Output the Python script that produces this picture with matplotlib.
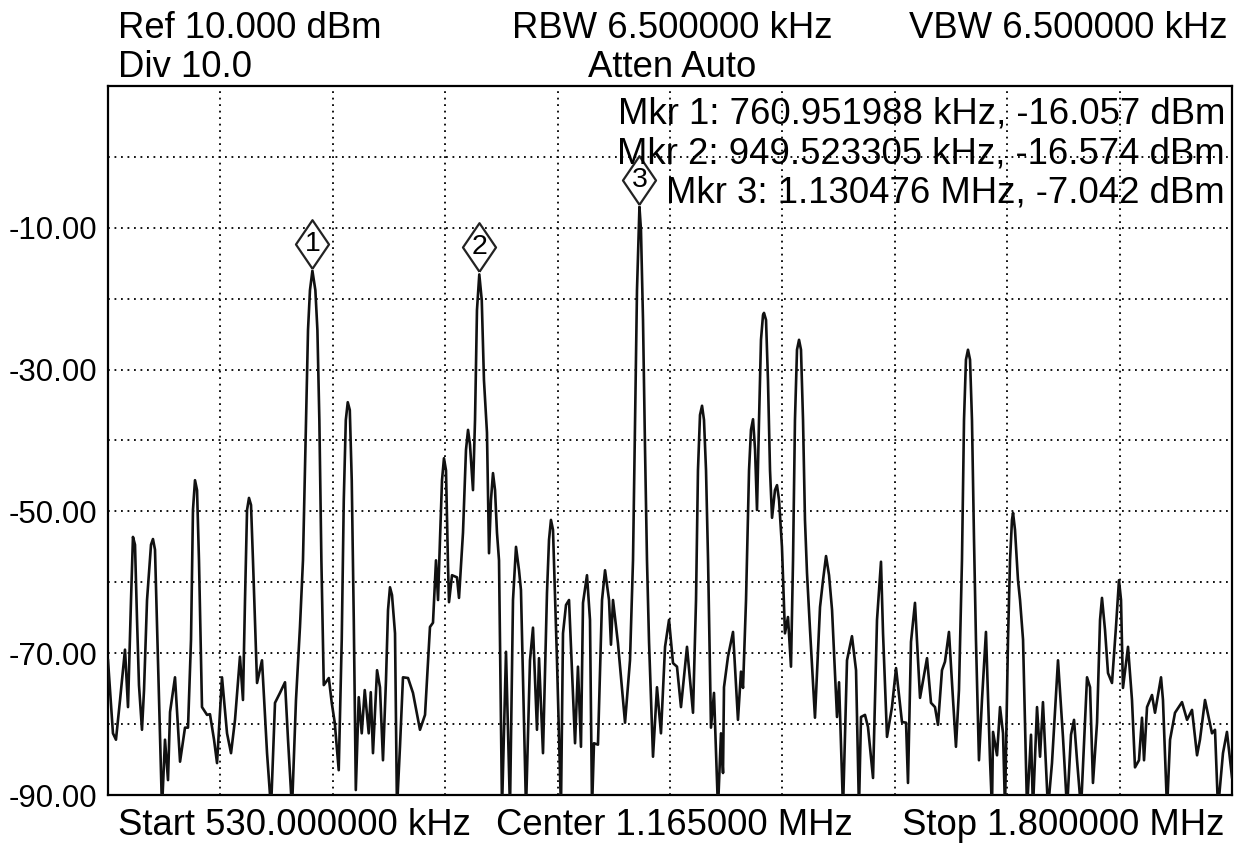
import matplotlib
matplotlib.use("Agg")
import matplotlib.pyplot as plt
import numpy as np
from matplotlib.transforms import offset_copy

plt.rcParams['font.family'] = ['Liberation Sans', 'DejaVu Sans']

# ---- data (frequency in kHz, level in dBm) ----
freq_khz = [
    530.0, 535.6, 539.0, 543.6, 549.2, 552.6, 556.0, 558.2, 560.5, 562.8, 565.0, 568.4, 570.7, 574.1, 578.6,
    580.8, 583.1, 586.5, 591.0, 594.4, 597.8, 600.1, 605.7, 611.4, 617.0, 620.4, 623.8, 626.0, 628.3, 630.6,
    632.8, 636.2, 641.9, 645.2, 649.8, 653.2, 658.8, 664.5, 669.0, 673.5, 679.1, 682.5, 684.8, 687.1, 689.3,
    691.6, 693.8, 698.4, 704.0, 709.7, 714.2, 718.7, 724.3, 730.0, 733.4, 737.9, 742.4, 746.9, 750.3, 753.7,
    756.0, 758.2, 760.95, 764.3, 766.6, 768.8, 771.1, 773.8, 779.5, 782.8, 786.2, 790.7, 794.1, 796.4, 798.7,
    800.9, 803.2, 805.4, 807.7, 810.0, 813.3, 816.7, 820.1, 824.6, 826.9, 829.4, 834.0, 837.3, 840.7, 844.1,
    846.4, 848.6, 850.9, 854.3, 856.5, 859.9, 863.3, 869.0, 874.6, 882.5, 888.2, 893.8, 897.2, 900.6, 902.9,
    905.1, 907.4, 909.6, 911.9, 914.2, 915.3, 918.7, 924.3, 926.6, 931.1, 934.5, 936.8, 939.0, 942.4, 944.7,
    946.9, 949.52, 952.3, 954.8, 958.2, 960.5, 962.7, 965.0, 967.3, 969.5, 971.8, 975.2, 979.7, 984.2, 987.6,
    991.0, 994.4, 996.6, 1002.3, 1006.8, 1010.2, 1014.7, 1017.0, 1021.5, 1026.0, 1028.3, 1030.5, 1032.8, 1037.3,
    1041.8, 1044.1, 1047.5, 1050.9, 1057.7, 1061.0, 1064.4, 1066.7, 1071.2, 1074.6, 1076.9, 1079.1, 1083.6,
    1088.2, 1091.6, 1096.1, 1098.3, 1100.6, 1106.2, 1114.2, 1119.8, 1123.2, 1125.5, 1127.7, 1130.476, 1132.2,
    1134.5, 1136.8, 1139.0, 1141.3, 1145.8, 1150.3, 1154.8, 1159.4, 1163.9, 1168.4, 1172.9, 1177.4, 1184.2,
    1191.0, 1194.4, 1196.6, 1198.9, 1201.2, 1203.4, 1205.7, 1208.0, 1211.3, 1214.7, 1219.2, 1222.6, 1224.9,
    1226.0, 1230.5, 1236.2, 1241.8, 1245.2, 1247.5, 1250.9, 1254.3, 1256.5, 1258.8, 1261.1, 1263.3, 1265.6,
    1267.8, 1270.1, 1271.2, 1273.5, 1275.7, 1278.0, 1280.3, 1283.6, 1285.9, 1288.2, 1291.5, 1292.7, 1294.9,
    1298.3, 1301.7, 1304.0, 1306.2, 1308.5, 1310.8, 1313.0, 1315.3, 1317.5, 1319.8, 1323.2, 1328.8, 1334.5,
    1337.9, 1341.3, 1344.7, 1348.1, 1353.7, 1356.0, 1360.5, 1365.0, 1370.6, 1375.2, 1378.5, 1380.8, 1385.3,
    1388.7, 1394.4, 1398.9, 1403.4, 1405.7, 1410.2, 1415.8, 1420.4, 1427.1, 1431.7, 1433.9, 1437.3, 1441.8,
    1447.5, 1455.4, 1459.9, 1464.4, 1467.8, 1472.3, 1475.7, 1480.2, 1484.8, 1488.1, 1491.5, 1494.9, 1497.2,
    1499.4, 1501.7, 1504.0, 1506.2, 1508.5, 1510.7, 1514.1, 1517.5, 1522.0, 1526.6, 1528.8, 1530.0, 1534.5,
    1537.9, 1541.3, 1543.5, 1546.9, 1549.2, 1551.4, 1552.6, 1554.8, 1558.2, 1560.5, 1563.9, 1568.4, 1572.9,
    1575.1, 1579.7, 1583.1, 1586.4, 1592.1, 1596.6, 1603.4, 1609.0, 1613.6, 1618.1, 1621.5, 1624.9, 1629.4,
    1636.2, 1639.6, 1642.9, 1647.5, 1650.9, 1653.1, 1656.5, 1659.9, 1664.4, 1668.9, 1672.3, 1674.6, 1676.8,
    1682.5, 1687.0, 1690.4, 1694.9, 1698.3, 1700.6, 1704.0, 1709.6, 1713.0, 1719.8, 1722.0, 1726.6, 1730.0,
    1735.6, 1743.5, 1749.2, 1754.8, 1760.5, 1763.8, 1769.5, 1777.4, 1780.8, 1784.2, 1789.8, 1794.3, 1800.0,
]
level_dbm = [
    -71.0, -81.3, -82.2, -76.6, -69.5, -77.6, -62.5, -53.6, -54.7, -65.3, -74.5, -80.8, -75.2, -62.5, -54.7,
    -53.9, -55.4, -71.0, -92.0, -82.2, -87.9, -78.3, -73.4, -85.3, -80.5, -80.5, -68.1, -49.8, -45.6, -47.0,
    -56.9, -77.6, -78.7, -78.6, -82.2, -85.5, -73.4, -81.3, -84.1, -79.4, -70.5, -76.6, -62.5, -49.8, -48.1,
    -49.1, -56.9, -74.2, -71.0, -84.1, -92.0, -77.0, -75.6, -74.1, -82.2, -92.0, -76.6, -66.3, -56.9, -37.1,
    -24.4, -18.8, -16.057, -18.8, -24.4, -37.1, -56.9, -74.5, -73.5, -77.0, -79.8, -86.5, -68.1, -48.4, -37.1,
    -34.6, -35.7, -45.6, -65.3, -89.3, -76.2, -81.3, -75.2, -81.3, -75.5, -84.1, -72.4, -74.8, -85.1, -73.8,
    -63.9, -60.7, -61.8, -67.2, -92.0, -83.2, -73.4, -73.5, -75.6, -80.8, -78.7, -66.3, -65.7, -56.9, -62.5,
    -54.0, -45.6, -42.5, -44.2, -57.8, -62.8, -59.0, -59.3, -62.2, -53.0, -41.3, -38.5, -40.6, -47.0, -37.1,
    -21.6, -16.574, -20.2, -31.5, -38.9, -55.9, -48.4, -44.6, -47.0, -53.0, -56.9, -92.0, -69.8, -92.0, -62.5,
    -55.0, -58.3, -61.1, -92.0, -71.0, -66.4, -80.8, -70.7, -84.1, -61.5, -54.0, -51.2, -52.6, -71.0,
    -92.0, -67.2, -63.2, -62.5, -82.7, -71.9, -83.2, -62.9, -59.0, -65.3, -92.0, -82.7, -82.9,
    -62.5, -58.3, -62.5, -68.8, -62.5, -68.6, -79.8, -71.0, -56.9, -37.1, -18.8, -7.042, -10.3,
    -23.0, -41.3, -56.9, -68.4, -84.6, -74.8, -81.3, -69.1, -65.3, -71.4, -71.9, -77.6, -69.1,
    -78.4, -62.5, -44.2, -36.4, -35.1, -37.1, -44.2, -56.9, -80.5, -75.6, -92.0, -81.3, -86.9,
    -74.8, -70.5, -67.0, -79.4, -72.6, -74.9, -62.5, -44.2, -38.5, -37.0, -41.3, -49.8, -37.1,
    -25.8, -22.3, -22.0, -23.0, -31.5, -44.2, -50.9, -47.0, -46.3, -48.4, -55.0, -59.3, -67.2,
    -64.9, -71.9, -56.9, -37.1, -27.2, -25.8, -27.2, -37.1, -51.2, -58.7, -66.7, -79.1, -63.5,
    -59.7, -56.3, -59.0, -63.9, -79.0, -74.1, -92.0, -71.0, -67.6, -72.4, -92.0, -79.0, -78.7,
    -80.4, -87.6, -65.3, -57.1, -67.2, -81.8, -77.6, -72.1, -79.7, -79.8, -88.3, -68.4, -62.9,
    -76.3, -70.7, -77.0, -77.6, -80.1, -72.4, -71.2, -67.0, -76.6, -83.2, -75.2, -56.9, -37.1,
    -28.6, -27.2, -28.6, -37.1, -54.0, -68.1, -85.1, -76.6, -67.0, -85.1, -92.0, -81.1, -84.4,
    -77.6, -81.3, -92.0, -68.1, -56.9, -51.2, -50.2, -52.6, -59.7, -62.5, -68.1, -92.0, -81.5,
    -92.0, -77.6, -84.6, -76.9, -92.0, -85.5, -71.0, -81.8, -92.0, -81.5, -79.4, -85.1, -92.0,
    -73.4, -74.8, -88.3, -79.8, -65.3, -62.2, -66.7, -72.8, -74.2, -66.3, -59.7, -62.5, -74.9,
    -69.1, -76.6, -86.1, -85.1, -79.1, -85.1, -77.6, -75.9, -78.4, -73.4, -76.6, -92.0, -82.2,
    -78.4, -76.9, -79.4, -78.0, -84.4, -82.2, -76.6, -81.3, -80.8, -92.0, -84.1, -81.1, -87.5,
]
marker_ids = ["1", "2", "3"]
marker_freq_khz = [760.951988, 949.523305, 1130.476]
marker_level_dbm = [-16.057, -16.574, -7.042]
marker_texts = [
    "Mkr 1: 760.951988 kHz, -16.057 dBm",
    "Mkr 2: 949.523305 kHz, -16.574 dBm",
    "Mkr 3: 1.130476 MHz, -7.042 dBm",
]
ytick_values = [-10, -30, -50, -70, -90]
ytick_labels = ["-10.00", "-30.00", "-50.00", "-70.00", "-90.00"]
ref_level = 10.0
div_db = 10.0
start_khz, stop_khz = 530.0, 1800.0

# ---- figure ----
W, H = 1243, 846
fig = plt.figure(figsize=(W / 100, H / 100), dpi=100)
ax = fig.add_axes([108 / W, 1 - 795 / H, (1232 - 108) / W, (795 - 86) / H])
ax.set_xlim(start_khz, stop_khz)
ax.set_ylim(ref_level - 10 * div_db, ref_level)

# grid
grid_style = dict(color='black', lw=1.3, linestyle=(0, (1, 2.6)), zorder=1)
for k in range(1, 10):
    ax.axhline(ref_level - k * div_db, **grid_style)
    ax.axvline(start_khz + k * (stop_khz - start_khz) / 10, **grid_style)

ax.plot(freq_khz, level_dbm, color='#111111', lw=1.9, zorder=3, clip_on=True,
        solid_joinstyle='round')

# markers (tall diamonds above the peaks)
diamond = [(0, -1), (0.68, 0), (0, 1), (-0.68, 0), (0, -1)]
trans = offset_copy(ax.transData, fig=fig, x=0, y=27, units='dots')
for mid, mf, ml in zip(marker_ids, marker_freq_khz, marker_level_dbm):
    ax.plot([mf], [ml], marker=diamond, markersize=35, markerfacecolor='white',
            markeredgecolor='#222222', markeredgewidth=1.6, transform=trans,
            zorder=5, clip_on=False)
    ax.text(mf, ml, mid, transform=trans, ha='center', va='center',
            fontsize=20.5, color='black', zorder=6)

for spine in ax.spines.values():
    spine.set_linewidth(1.6)
    spine.set_color('black')

ax.set_xticks([])
ax.set_yticks(ytick_values)
ax.set_yticklabels(ytick_labels, fontsize=22.5)
ax.tick_params(axis='y', length=0, pad=8)

# header / footer texts
fs = 26.3
def ftxt(x, y, s, ha):
    fig.text(x / W, 1 - y / H, s, ha=ha, va='center', fontsize=fs, color='black')

ftxt(118, 29, "Ref 10.000 dBm", 'left')
ftxt(672, 29, "RBW 6.500000 kHz", 'center')
ftxt(1228, 29, "VBW 6.500000 kHz", 'right')
ftxt(118, 67, "Div 10.0", 'left')
ftxt(672, 67, "Atten Auto", 'center')
for txt, yy in zip(marker_texts, [114, 154, 193]):
    ftxt(1225, yy, txt, 'right')
ftxt(118, 825, "Start 530.000000 kHz", 'left')
ftxt(674, 825, "Center 1.165000 MHz", 'center')
ftxt(1225, 825, "Stop 1.800000 MHz", 'right')

fig.savefig("out.png", dpi=100)
